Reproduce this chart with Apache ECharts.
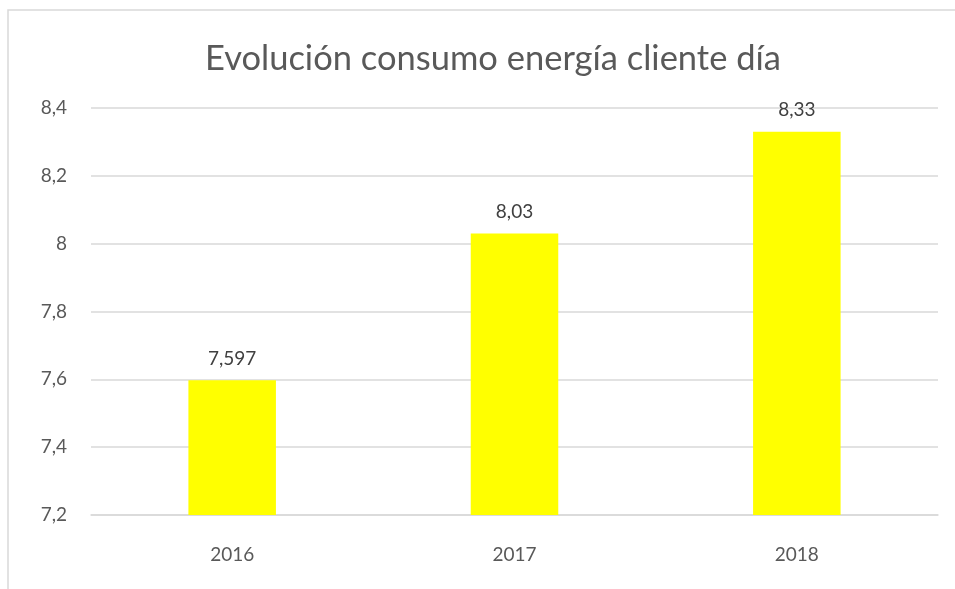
<!DOCTYPE html>
<html>
<head>
<meta charset="utf-8">
<script src="https://cdn.jsdelivr.net/npm/echarts@6/dist/echarts.min.js"></script>
<style>
  html, body { margin: 0; padding: 0; background: #fff; }
  #chart { width: 955px; height: 589px; }
</style>
</head>
<body>
<div id="chart"></div>
<script>
var chart = echarts.init(document.getElementById('chart'));
var option;

const years = ['2016', '2017', '2018'];
const consumo = [7.597, 8.03, 8.33];

function comma(v) {
  return String(v).replace('.', ',');
}

option = {
  textStyle: { fontFamily: 'Lato' },
  title: {
    text: 'Evolución consumo energía cliente día',
    left: 200,
    top: 36,
    textStyle: { fontSize: 34.5, fontWeight: 'normal', color: '#595959', fontFamily: 'Lato' }
  },
  graphic: [{
    type: 'rect',
    shape: { x: 8, y: 10, width: 1000, height: 700 },
    style: { fill: 'none', stroke: '#d9d9d9', lineWidth: 1.5 },
    silent: true
  }],
  grid: { left: 91, right: 17, top: 108, bottom: 74 },
  xAxis: {
    type: 'category',
    data: years,
    axisLine: { show: true, lineStyle: { color: '#d9d9d9', width: 1.5 } },
    axisTick: { show: false },
    axisLabel: { fontSize: 19, color: '#595959', margin: 30 }
  },
  yAxis: {
    type: 'value',
    min: 7.2,
    max: 8.4,
    interval: 0.2,
    axisLine: { show: false },
    axisTick: { show: false },
    splitLine: { lineStyle: { color: '#d9d9d9', width: 1.5 } },
    axisLabel: {
      fontSize: 19,
      color: '#595959',
      margin: 24,
      formatter: function (v) { return comma(Math.round(v * 10) / 10); }
    }
  },
  series: [{
    type: 'bar',
    data: consumo,
    barWidth: '31%',
    itemStyle: { color: '#ffff00' },
    label: {
      show: true,
      position: 'top',
      distance: 12,
      fontSize: 19,
      color: '#404040',
      formatter: function (p) { return comma(p.value); }
    }
  }],
  animation: false
};

option && chart.setOption(option);
</script>
</body>
</html>
